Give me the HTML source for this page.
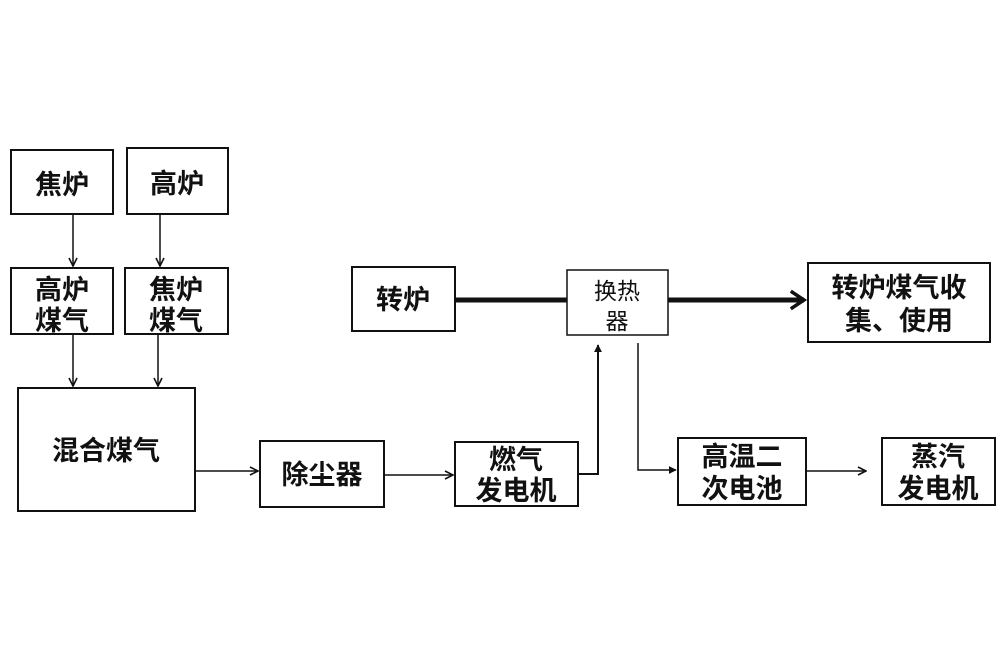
<!DOCTYPE html>
<html><head><meta charset="utf-8"><style>
body{margin:0;background:#fff;}
svg text{font-family:"Liberation Sans","Noto Sans CJK SC",sans-serif;font-weight:bold;font-size:27px;fill:#111;text-anchor:middle;}
</style></head><body>
<svg width="1006" height="661" viewBox="0 0 1006 661" xmlns="http://www.w3.org/2000/svg">
<defs>
<marker id="a" viewBox="0 0 10 10" refX="9" refY="5" markerWidth="10" markerHeight="10" markerUnits="userSpaceOnUse" orient="auto"><path d="M1,1 L9,5 L1,9" fill="none" stroke="#111" stroke-width="1.6"/></marker>
<marker id="b" viewBox="0 0 10 10" refX="9" refY="5" markerWidth="8" markerHeight="8" markerUnits="userSpaceOnUse" orient="auto"><path d="M0,0 L10,5 L0,10z" fill="#111"/></marker>
<marker id="c" viewBox="0 0 10 10" refX="8" refY="5" markerWidth="22" markerHeight="22" markerUnits="userSpaceOnUse" orient="auto"><path d="M2,1 L8,5 L2,9" fill="none" stroke="#111" stroke-width="1.6"/></marker>
</defs>
<g fill="none" stroke="#111" stroke-width="2">
<rect x="11" y="150" width="102" height="64"/>
<rect x="127" y="148" width="101" height="66"/>
<rect x="11" y="268" width="102" height="66"/>
<rect x="125" y="268" width="103" height="66"/>
<rect x="18" y="388" width="177" height="123"/>
<rect x="260" y="441" width="124" height="66"/>
<rect x="455" y="442" width="123" height="64"/>
<rect x="352" y="267" width="103" height="64"/>
<rect x="567" y="270" width="101" height="65" stroke-width="1.5"/>
<rect x="808" y="263" width="182" height="79"/>
<rect x="678" y="438" width="128" height="67"/>
<rect x="882" y="438" width="113" height="67"/>
</g>
<g fill="none" stroke="#111" stroke-width="1.5">
<line x1="73" y1="214" x2="73" y2="266" marker-end="url(#a)"/>
<line x1="160" y1="214" x2="160" y2="266" marker-end="url(#a)"/>
<line x1="73" y1="334" x2="73" y2="386" marker-end="url(#a)"/>
<line x1="158" y1="334" x2="158" y2="386" marker-end="url(#a)"/>
<line x1="195" y1="471" x2="258" y2="471" marker-end="url(#a)"/>
<line x1="384" y1="475" x2="453" y2="475" marker-end="url(#a)"/>
<line x1="806" y1="471" x2="866" y2="471" marker-end="url(#a)"/>
<polyline points="578,474 598,474 598,345" marker-end="url(#b)" stroke-width="2"/>
<polyline points="638,343 638,470 676,470" marker-end="url(#b)"/>
</g>
<line x1="455" y1="300" x2="567" y2="300" stroke="#111" stroke-width="5"/>
<line x1="668" y1="300" x2="804" y2="300" stroke="#111" stroke-width="5" marker-end="url(#c)"/>
<text x="62" y="194">焦炉</text>
<text x="177" y="193">高炉</text>
<text x="62" y="299">高炉</text>
<text x="62" y="330">煤气</text>
<text x="176" y="299">焦炉</text>
<text x="176" y="330">煤气</text>
<text x="106" y="460">混合煤气</text>
<text x="322" y="484">除尘器</text>
<text x="516" y="469">燃气</text>
<text x="516" y="500">发电机</text>
<text x="403" y="309">转炉</text>
<text x="617" y="299" style="font-weight:normal;font-size:23px">换热</text>
<text x="617" y="329" style="font-weight:normal;font-size:23px">器</text>
<text x="899" y="297">转炉煤气收</text>
<text x="899" y="330">集、使用</text>
<text x="742" y="466">高温二</text>
<text x="742" y="498">次电池</text>
<text x="938" y="466">蒸汽</text>
<text x="938" y="498">发电机</text>
</svg>
</body></html>
